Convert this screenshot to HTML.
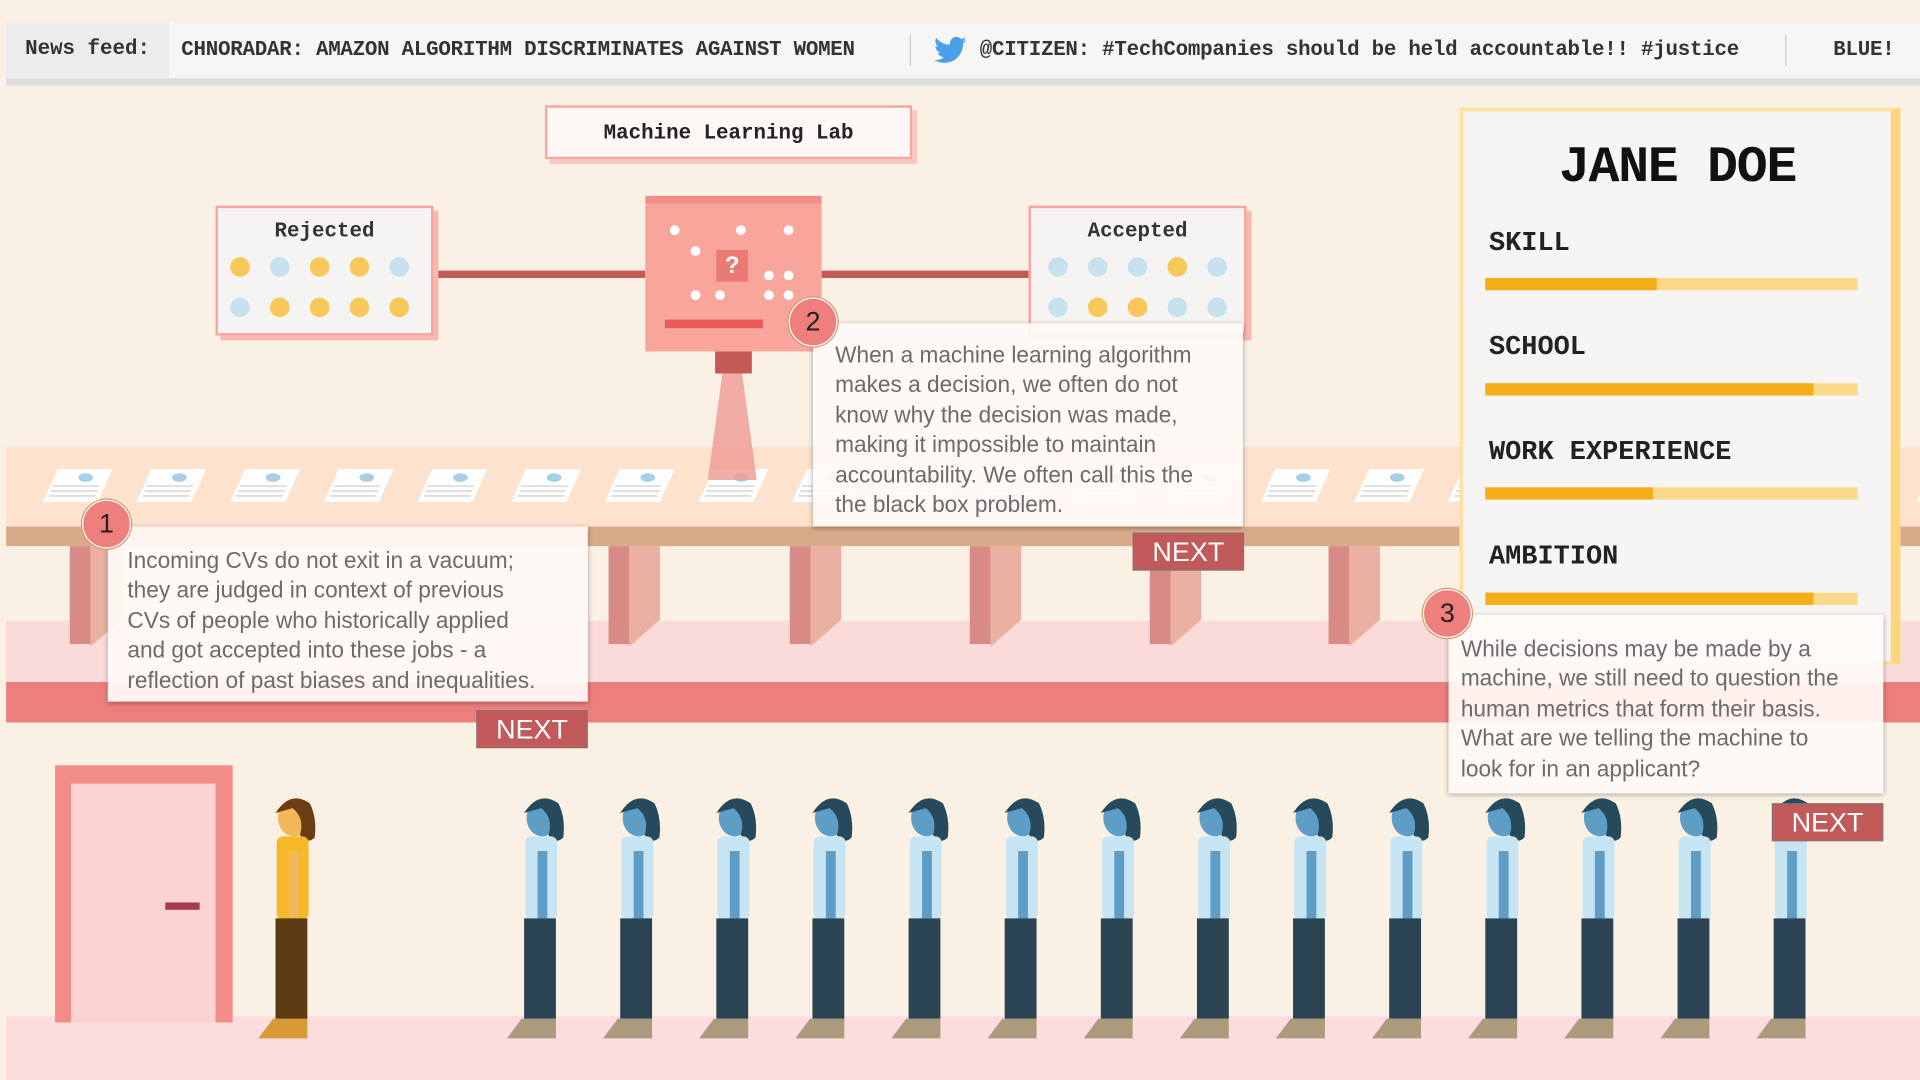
<!DOCTYPE html>
<html><head><meta charset="utf-8">
<style>
html,body{margin:0;padding:0;width:1920px;height:1080px;overflow:hidden;background:#faf0e4;}
#stage{position:absolute;left:0;top:0;width:1568px;height:882px;transform:scale(1.22449);transform-origin:0 0;background:#faf0e4;overflow:hidden;font-family:"Liberation Sans",sans-serif;}
.abs{position:absolute;}
.mono{font-family:"Liberation Mono",monospace;}
.tip{position:absolute;background:rgba(255,250,246,0.93);box-shadow:0 1px 4px rgba(0,0,0,0.35);color:#6b6b6b;font-size:18.5px;line-height:24.4px;padding:4px 8px 0 16px;box-sizing:border-box;white-space:nowrap;}
.num{position:absolute;width:38px;height:38px;border-radius:50%;background:#ee7f7c;border:1.5px solid #fff;box-shadow:0 0 0 1px #c96;color:#222;font-size:22px;text-align:center;line-height:38px;}
.next{position:absolute;width:91px;height:31px;background:#c35a5a;border:1px solid #8a7070;box-sizing:border-box;color:#fff;font-size:22px;text-align:center;line-height:30px;}
.bar{position:absolute;left:21px;width:304px;height:10px;background:#fcd98a;}
.bar div{height:100%;background:#f5ad17;}
.lbl{position:absolute;left:21px;font-size:22px;font-weight:bold;color:#222;}
</style></head><body>
<div id="stage">
 <div class="abs" style="left:5px;top:18px;width:1563px;height:46px;background:#f7f6f5;border-bottom:6px solid #ddd;"></div>
 <div class="abs mono" style="left:5px;top:18px;width:133px;height:46px;background:#ececec;font-size:17px;font-weight:bold;line-height:46px;text-align:center;color:#333;">News feed:</div>
 <div class="abs mono" style="left:148px;top:18px;height:46px;line-height:48px;font-size:17px;font-weight:bold;color:#333;white-space:nowrap;width:1415px;overflow:hidden;letter-spacing:-0.2px;">
  CHNORADAR: AMAZON ALGORITHM DISCRIMINATES AGAINST WOMEN <span style="display:inline-block;width:1px;height:26px;background:#ccc;vertical-align:middle;margin:0 18px 0 35px"></span><svg width="28" height="22" viewBox="0 0 24 20" style="vertical-align:middle"><path d="M24 2.4a9.8 9.8 0 0 1-2.8.8A4.9 4.9 0 0 0 23.3.5a9.9 9.9 0 0 1-3.1 1.2A4.9 4.9 0 0 0 11.8 6 14 14 0 0 1 1.7.9a4.9 4.9 0 0 0 1.5 6.6A4.9 4.9 0 0 1 1 6.9a4.9 4.9 0 0 0 3.9 4.8 4.9 4.9 0 0 1-2.2.1 4.9 4.9 0 0 0 4.6 3.4A9.9 9.9 0 0 1 0 17.2 14 14 0 0 0 7.5 19.4c9.1 0 14-7.5 14-14v-.6A10 10 0 0 0 24 2.4z" fill="#4aa0e8"/></svg> @CITIZEN: #TechCompanies should be held accountable!! #justice<span style="display:inline-block;width:1px;height:26px;background:#ccc;vertical-align:middle;margin:0 38px 0 38px"></span>BLUE!
 </div>

 <div class="abs" style="left:5px;top:365px;width:1563px;height:65px;background:#fde2cd;"></div>
 <div class="abs" style="left:5px;top:507px;width:1563px;height:50px;background:#fbdada;"></div>
 <div class="abs" style="left:5px;top:557px;width:1563px;height:33px;background:#ec7f7c;"></div>
 <div class="abs" style="left:5px;top:830px;width:1563px;height:52px;background:#fcdcdc;"></div>
 <svg class="abs" style="left:0;top:0" width="1568" height="882">
  <g id="legs"></g>
  <rect x="5" y="430" width="1563" height="16" fill="#d8aa8a"/>
  <g id="cvs"></g>
  <polygon points="590,305 606,305 618,392 578,392" fill="#ee9a94" opacity="0.8"/>
  <rect x="584" y="287" width="30" height="18" fill="#c45a55"/>
 </svg>

 <div class="abs mono" style="left:445px;top:86px;width:300px;height:44px;background:#fdf8f6;border:2px solid #f5a7a0;box-shadow:4px 4px 0 #f8c8c0;box-sizing:border-box;font-size:17px;font-weight:bold;line-height:44px;text-align:center;color:#222;">Machine Learning Lab</div>
 <div class="abs" style="left:357px;top:221px;width:170px;height:6px;background:#c45a55;"></div>
 <div class="abs" style="left:671px;top:221px;width:169px;height:6px;background:#c45a55;"></div>
 <div class="abs" style="left:176px;top:168px;width:178px;height:106px;background:#f6f4f2;border:2px solid #f5a7a0;box-shadow:4px 4px 0 #f8b8b0;box-sizing:border-box;">
  <div class="mono" style="text-align:center;font-size:17px;font-weight:bold;margin-top:10px;color:#333">Rejected</div>
 </div>
 <div class="abs" style="left:840px;top:168px;width:178px;height:106px;background:#f6f4f2;border:2px solid #f5a7a0;box-shadow:4px 4px 0 #f8b8b0;box-sizing:border-box;">
  <div class="mono" style="text-align:center;font-size:17px;font-weight:bold;margin-top:10px;color:#333">Accepted</div>
 </div>
 <svg class="abs" style="left:0;top:0" width="1568" height="882">
  <g id="dots"></g>
 </svg>
 <div class="abs" style="left:527px;top:160px;width:144px;height:127px;background:#f8a59b;box-shadow:inset 0 6px 0 #f28c84;">
  <div class="abs" style="left:16px;top:101px;width:80px;height:7px;background:#ec5a58;"></div>
  <div class="abs" style="left:58px;top:44px;width:26px;height:26px;background:#ec7a74;color:#fff;font-weight:bold;font-size:20px;text-align:center;line-height:26px;">?</div>
  <svg width="144" height="100" style="position:absolute;left:0;top:0"><g fill="#fff">
   <circle cx="24" cy="28" r="4"/><circle cx="78" cy="28" r="4"/><circle cx="117" cy="28" r="4"/><circle cx="41" cy="45" r="4"/>
   <circle cx="101" cy="65" r="4"/><circle cx="117" cy="65" r="4"/><circle cx="41" cy="81" r="4"/><circle cx="61" cy="81" r="4"/><circle cx="101" cy="81" r="4"/><circle cx="117" cy="81" r="4"/></g></svg>
 </div>

 <div class="abs" style="left:1192px;top:88px;width:360px;height:455px;background:#f6f5f4;border:3px solid #fde1a0;border-right:8px solid #fcd57e;box-sizing:border-box;">
  <div class="mono" style="position:absolute;left:0;top:22px;width:350px;text-align:center;font-size:42px;font-weight:bold;color:#111;letter-spacing:-1px;">JANE DOE</div>
  <div class="lbl mono" style="top:95px">SKILL</div>
  <div class="bar" style="top:136px;left:18px"><div style="width:46%"></div></div>
  <div class="lbl mono" style="top:180px">SCHOOL</div>
  <div class="bar" style="top:222px;left:18px"><div style="width:88%"></div></div>
  <div class="lbl mono" style="top:266px">WORK EXPERIENCE</div>
  <div class="bar" style="top:307px;left:18px"><div style="width:45%"></div></div>
  <div class="lbl mono" style="top:351px">AMBITION</div>
  <div class="bar" style="top:393px;left:18px"><div style="width:88%"></div></div>
 </div>

 <svg class="abs" style="left:0;top:0" width="1568" height="882">
  <rect x="45" y="625" width="145" height="210" fill="#f28c88"/>
  <rect x="58" y="640" width="118" height="195" fill="#fbd3d3"/>
  <rect x="135" y="737" width="28" height="6" fill="#a23a50"/>
  <g id="people"></g>
 </svg>

 <div class="tip" style="left:88px;top:430px;width:392px;height:143px;padding-top:16px;">Incoming CVs do not exit in a vacuum;<br>they are judged in context of previous<br>CVs of people who historically applied<br>and got accepted into these jobs - a<br>reflection of past biases and inequalities.</div>
 <div class="num" style="left:67px;top:408px;">1</div>
 <div class="next" style="left:389px;top:580px;">NEXT</div>

 <div class="tip" style="left:664px;top:264px;width:351px;height:166px;padding:14px 4px 0 18px;">When a machine learning algorithm<br>makes a decision, we often do not<br>know why the decision was made,<br>making it impossible to maintain<br>accountability. We often call this the<br>the black box problem.</div>
 <div class="num" style="left:644px;top:243px;">2</div>
 <div class="next" style="left:925px;top:435px;">NEXT</div>

 <div class="tip" style="left:1183px;top:502px;width:355px;height:146px;padding:16px 2px 0 10px;">While decisions may be made by a<br>machine, we still need to question the<br>human metrics that form their basis.<br>What are we telling the machine to<br>look for in an applicant?</div>
 <div class="num" style="left:1162px;top:481px;">3</div>
 <div class="next" style="left:1447px;top:656px;">NEXT</div>
</div>
<script>
const NS="http://www.w3.org/2000/svg";
function mk(tag,attrs,parent){const e=document.createElementNS(NS,tag);for(const k in attrs)e.setAttribute(k,attrs[k]);parent.appendChild(e);return e;}
const legs=document.getElementById('legs');
[57,497,645,792,939,1085].forEach(x=>{
 mk('rect',{x:x,y:446,width:17,height:80,fill:'#d88a87'},legs);
 mk('polygon',{points:(x+17)+',446 '+(x+42)+',446 '+(x+42)+',506 '+(x+17)+',528',fill:'#eab1a0'},legs);
});
const cvs=document.getElementById('cvs');
for(let i=0;i<21;i++){const x=35+i*76.5;
 const g=mk('g',{},cvs);
 mk('polygon',{points:(x+12)+',383 '+(x+57)+',383 '+(x+45)+',410 '+(x)+',410',fill:'#fdfdfd'},g);
 mk('ellipse',{cx:x+35,cy:390,rx:6,ry:3.5,fill:'#a9cfe6'},g);
 for(let j=0;j<3;j++)mk('line',{x1:x+8-j*1.5,y1:397+j*4,x2:x+46-j*1.5,y2:397+j*4,stroke:'#ddd','stroke-width':1.5},g);
}
const dots=document.getElementById('dots');
const Y='#f7c95a',B='#c8e1ef';
const rej=[[Y,B,Y,Y,B],[B,Y,Y,Y,Y]], acc=[[B,B,B,Y,B],[B,Y,Y,B,B]];
[[196,rej],[864,acc]].forEach(([x0,m])=>m.forEach((row,r)=>row.forEach((c,i)=>mk('circle',{cx:x0+i*32.5,cy:218+r*33,r:8,fill:c},dots))));
const ppl=document.getElementById('people');
function person(x,yellow){
 const g=mk('g',{},ppl);
 const skin=yellow?'#f3b65a':'#5d9dc6', shirt=yellow?'#f6b828':'#c7e4f3', pants=yellow?'#5b3a12':'#2b4454', hair=yellow?'#6a3d14':'#27495c', shoe=yellow?'#d89a38':'#a99b7c';
 mk('ellipse',{cx:x+3,cy:668,rx:13,ry:15,fill:skin},g);
 mk('path',{d:`M${x-12} 664 Q${x} 645 ${x+16} 656 Q${x+22} 668 ${x+20} 684 Q${x+14} 690 ${x+8} 682 Q${x+12} 668 ${x+2} 660 Z`,fill:hair},g);
 mk('rect',{x:x-11,y:683,width:26,height:68,rx:5,fill:shirt},g);
 mk('rect',{x:x-1,y:695,width:8,height:55,fill:skin},g);
 mk('rect',{x:x-12,y:750,width:26,height:82,fill:pants},g);
 mk('polygon',{points:`${x-14},832 ${x+14},832 ${x+14},848 ${x-26},848`,fill:shoe},g);
}
person(237,true);
for(let i=0;i<14;i++)person(440+i*78.5,false);
</script>
</body></html>
